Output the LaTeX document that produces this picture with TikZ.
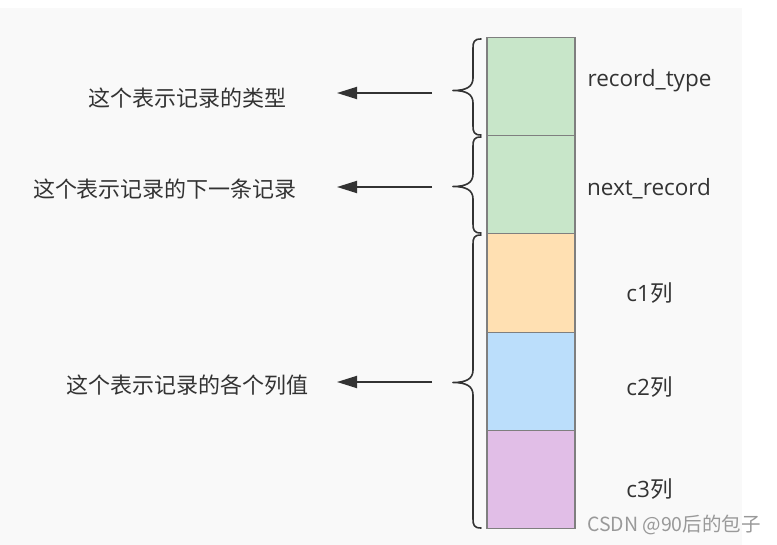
\documentclass[tikz,border=0pt]{standalone}
\usepackage{fontspec}
\setmainfont{Open Sans}
\newfontfamily\cjk{Noto Sans CJK SC}
\usetikzlibrary{arrows.meta}
\definecolor{bgray}{HTML}{F9F9F9}
\definecolor{txt}{HTML}{333333}
\definecolor{cgreen}{HTML}{C8E6C9}
\definecolor{corange}{HTML}{FFE0B2}
\definecolor{cblue}{HTML}{BBDEFB}
\definecolor{cpurple}{HTML}{E1BEE7}
\definecolor{border}{HTML}{7F7F7F}
\tikzset{
  cell/.style={draw=border, line width=1.1pt, minimum width=88pt, minimum height=98.3pt, inner sep=0pt, outer sep=0pt},
  lefttext/.style={text=txt, font=\cjk\fontsize{22}{24}\selectfont, inner sep=0pt},
  righttext/.style={text=txt, font=\fontsize{22.5}{26}\selectfont, inner sep=0pt},
  arr/.style={draw=txt, line width=1.8pt, -{Triangle[length=20pt,width=12pt]}},
  bracestyle/.style={draw=txt, line width=1.6pt, line cap=round, line join=round},
}
\begin{document}
\begin{tikzpicture}[x=1pt,y=-1pt]
\useasboundingbox (0,0) rectangle (777,545);
\fill[white] (0,0) rectangle (777,545);
\fill[bgray] (0,8) rectangle (742,545);

% cells
\node[cell, fill=cgreen]   (c0) at (531,86.45) {};
\node[cell, fill=cgreen]   (c1) at (531,184.75) {};
\node[cell, fill=corange]  (c2) at (531,283.05) {};
\node[cell, fill=cblue]    (c3) at (531,381.35) {};
\node[cell, fill=cpurple]  (c4) at (531,479.65) {};

% right labels
\node[righttext] (l0) at (649.5,81) {record\_type};
\node[righttext] (l1) at (649,189) {next\_record};
\node[righttext] (l2) at (649.5,293) {c1{\cjk 列}};
\node[righttext] (l3) at (649.5,387) {c2{\cjk 列}};
\node[righttext] (l4) at (649.5,489) {c3{\cjk 列}};

% left texts
\node[lefttext] (t0) at (187.5,98) {这个表示记录的类型};
\node[lefttext] (t1) at (165,189) {这个表示记录的下一条记录};
\node[lefttext] (t2) at (187.5,385) {这个表示记录的各个列值};

% braces
\draw[bracestyle] (481,39) .. controls (474,39) and (473,42) .. (473,48) -- (473,78) .. controls (473,87) and (466,90.5) .. (453,90.5) .. controls (466,90.5) and (473,94) .. (473,103) -- (473,126) .. controls (473,132) and (474,135) .. (481,135);
\draw[bracestyle] (481,137) .. controls (474,137) and (473,140) .. (473,146) -- (473,174) .. controls (473,183) and (466,186.5) .. (453,186.5) .. controls (466,186.5) and (473,190) .. (473,199) -- (473,224) .. controls (473,230) and (474,233) .. (481,233);
\draw[bracestyle] (481,235) .. controls (474,235) and (473,238) .. (473,244) -- (473,370) .. controls (473,379) and (466,382.5) .. (453,382.5) .. controls (466,382.5) and (473,386) .. (473,395) -- (473,519) .. controls (473,525) and (474,528) .. (481,528);

% arrows
\coordinate (a0s) at (432,93);
\coordinate (a0e) at (337,93);
\coordinate (a1s) at (432,187);
\coordinate (a1e) at (337,187);
\coordinate (a2s) at (432,382);
\coordinate (a2e) at (337,382);
\draw[arr] (a0s) -- (a0e);
\draw[arr] (a1s) -- (a1e);
\draw[arr] (a2s) -- (a2e);

% watermark
\node[text=black!40, font=\cjk\fontsize{19.5}{22}\selectfont, inner sep=0pt, anchor=west] (wm) at (587,525) {CSDN @90后的包子};
\end{tikzpicture}
\end{document}
